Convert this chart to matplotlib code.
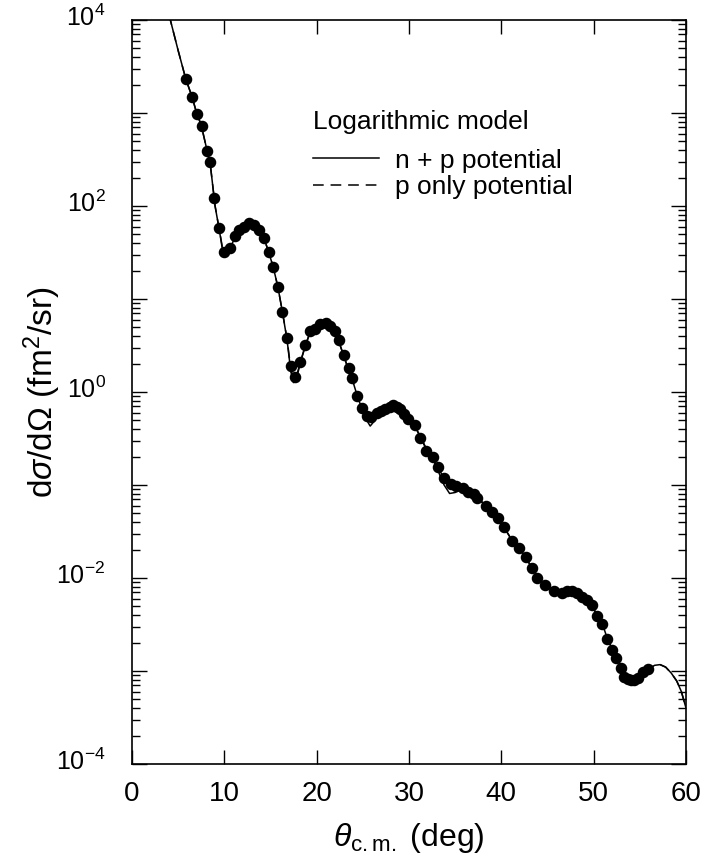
"""
Differential cross section vs c.m. angle, logarithmic model fits.
"""
import numpy as np
import matplotlib
matplotlib.use('Agg')
import matplotlib.pyplot as plt
from matplotlib.ticker import LogLocator, FuncFormatter, MultipleLocator, NullFormatter
from matplotlib.transforms import ScaledTranslation

plt.rcParams['font.family'] = ['Liberation Sans', 'DejaVu Sans']
plt.rcParams['mathtext.fontset'] = 'custom'
plt.rcParams['mathtext.rm'] = 'Liberation Sans'
plt.rcParams['mathtext.it'] = 'Liberation Sans:italic'

# measured points (deg, fm^2/sr)
theta_data = [5.84, 6.53, 7.05, 7.57, 8.15, 8.43, 8.85, 9.43, 10.0, 10.65,
              11.21, 11.57, 12.11, 12.65, 13.19, 13.73, 14.27, 14.8, 15.32, 15.84,
              16.27, 16.74, 17.17, 17.7, 18.24, 18.79, 19.24, 19.86, 20.4, 21.05,
              21.48, 21.94, 22.38, 22.93, 23.46, 23.81, 24.41, 24.94, 25.4, 25.9,
              26.5, 27.0, 27.4, 27.9, 28.3, 28.7, 29.0, 29.5, 29.9, 30.6,
              31.15, 31.87, 32.58, 33.12, 33.84, 34.56, 35.09, 35.8, 36.34, 37.0,
              37.42, 38.32, 39.02, 39.6, 40.3, 41.19, 41.91, 42.62, 43.34, 43.88,
              44.78, 45.67, 46.57, 47.1, 47.65, 48.2, 48.72, 49.3, 49.8, 50.33,
              50.87, 51.4, 51.94, 52.47, 53.01, 53.33, 53.7, 54.05, 54.4, 54.77,
              55.3, 55.86]
sigma_data = [2300, 1500, 980, 720, 390, 295, 123, 58, 32, 35,
              48, 55, 60, 65, 63, 55, 45, 32, 22, 13.5,
              7.2, 3.8, 1.9, 1.45, 2.1, 3.2, 4.5, 4.7, 5.4, 5.5,
              5.1, 4.5, 3.6, 2.5, 1.8, 1.4, 0.91, 0.68, 0.55, 0.54,
              0.59, 0.63, 0.65, 0.69, 0.72, 0.69, 0.65, 0.58, 0.51, 0.44,
              0.32, 0.23, 0.20, 0.155, 0.12, 0.102, 0.098, 0.093, 0.083, 0.079,
              0.072, 0.060, 0.051, 0.044, 0.035, 0.025, 0.021, 0.0166, 0.0129, 0.0100,
              0.0085, 0.0072, 0.0069, 0.0072, 0.0072, 0.0069, 0.0063, 0.0058, 0.0051, 0.0039,
              0.0032, 0.0022, 0.0017, 0.00138, 0.00107, 0.00087, 0.00081, 0.00079, 0.00079, 0.00083,
              0.00098, 0.00105]

# model curves
theta_calc = [4.0, 5.0, 5.84, 6.5, 7.0, 7.5, 8.0, 8.5, 9.0,
              9.5, 9.9, 10.3, 10.8, 11.2, 11.7, 12.2, 12.8, 13.3, 13.8,
              14.3, 14.8, 15.3, 15.8, 16.3, 16.8, 17.2, 17.5, 17.8, 18.2,
              18.8, 19.3, 19.9, 20.5, 21.0, 21.5, 22.0, 22.4, 22.9, 23.4,
              23.9, 24.4, 24.9, 25.4, 25.8, 26.2, 26.8, 27.5, 28.2, 28.8,
              29.5, 30.2, 30.8, 31.4, 32.0, 32.6, 33.2, 33.8, 34.4, 35.0,
              35.6, 36.3, 37.2, 38.3, 39.0, 40.3, 41.2, 42.0, 42.6, 43.4,
              44.0, 44.8, 45.7, 46.5, 47.5, 48.7, 49.8, 50.4, 51.0, 51.5,
              52.0, 52.5, 53.0, 53.5, 54.0, 54.7, 55.3, 56.0, 56.6, 57.2,
              57.8, 58.4, 59.0, 59.5, 60.0]
sigma_np = [1.15e4, 4700, 2300, 1500, 1000, 740, 450, 270, 100,
            52, 29.5, 32, 38, 48, 58, 63, 66, 63, 55,
            45, 32, 22, 13.5, 7.2, 3.6, 1.66, 1.26, 1.35, 2.0,
            3.2, 4.4, 4.9, 5.4, 5.5, 5.1, 4.4, 3.5, 2.5, 1.8,
            1.32, 0.91, 0.66, 0.50, 0.43, 0.48, 0.60, 0.68, 0.72, 0.68,
            0.58, 0.48, 0.40, 0.30, 0.23, 0.19, 0.138, 0.100, 0.081, 0.083,
            0.089, 0.083, 0.076, 0.060, 0.050, 0.035, 0.025, 0.021, 0.0166, 0.0126,
            0.0100, 0.0083, 0.0071, 0.0068, 0.0072, 0.0063, 0.0051, 0.0039, 0.0031, 0.0022,
            0.00174, 0.00138, 0.00107, 0.00083, 0.00074, 0.00078, 0.00091, 0.00105, 0.00115, 0.00117,
            0.00110, 0.00095, 0.00078, 0.00060, 0.00040]
sigma_p = [1.15e4, 4700, 2300, 1500, 1000, 740, 450, 270, 100,
           53, 31, 33, 38, 48, 58, 63, 66, 63, 55,
           45, 32, 22, 13.5, 7.2, 3.7, 1.75, 1.4, 1.45, 2.05,
           3.2, 4.4, 4.9, 5.4, 5.5, 5.1, 4.4, 3.5, 2.5, 1.8,
           1.32, 0.92, 0.68, 0.55, 0.52, 0.55, 0.61, 0.68, 0.72, 0.68,
           0.58, 0.48, 0.40, 0.31, 0.23, 0.19, 0.150, 0.118, 0.100, 0.097,
           0.093, 0.085, 0.077, 0.060, 0.050, 0.035, 0.025, 0.021, 0.0166, 0.0127,
           0.0100, 0.0084, 0.0072, 0.0069, 0.0072, 0.0063, 0.0051, 0.0039, 0.0031, 0.0022,
           0.00174, 0.00138, 0.00107, 0.00084, 0.00077, 0.00080, 0.00092, 0.00105, 0.00115, 0.00117,
           0.00110, 0.00095, 0.00078, 0.00060, 0.00040]

fig = plt.figure(figsize=(7.08, 8.61), dpi=100)
ax = fig.add_axes([0.1864, 0.1127, 0.7825, 0.8641])

ax.plot(theta_calc, sigma_np, color='black', lw=1.1, label='n + p potential')
ax.plot(theta_calc, sigma_p, color='black', lw=1.1, dashes=(7, 4.5), label='p only potential')
ax.plot(theta_data, sigma_data, 'o', color='black', ms=7.3, ls='none')

ax.set_yscale('log')
ax.set_xlim(0, 60)
ax.set_ylim(1e-4, 1e4)

ax.xaxis.set_major_locator(MultipleLocator(10))
ax.yaxis.set_major_locator(LogLocator(base=10, subs=(1.0,), numticks=20))
ax.yaxis.set_minor_locator(LogLocator(base=10, subs=np.arange(2, 10), numticks=20))
ax.yaxis.set_minor_formatter(NullFormatter())


def even_power(v, pos):
    e = int(round(np.log10(v)))
    if e % 2:
        return ''
    return r'$10^{%d}$' % e


ax.yaxis.set_major_formatter(FuncFormatter(even_power))

ax.tick_params(which='both', direction='in', top=True, right=True, width=1.0)
ax.tick_params(axis='x', which='major', length=10, pad=12, labelsize=20)
ax.tick_params(axis='y', which='major', length=11, pad=19, labelsize=18)
ax.tick_params(axis='y', which='minor', length=5.5)
for s in ax.spines.values():
    s.set_linewidth(1.2)

# nudge y tick labels up a little, as in the original
shift = ScaledTranslation(0, 5 / 100, fig.dpi_scale_trans)
for lab in ax.get_yticklabels():
    lab.set_transform(lab.get_transform() + shift)

ax.set_xlabel(r'$\theta_{\mathrm{c.m.}}$ (deg)', fontsize=23, labelpad=10)
ax.set_ylabel(r'd$\sigma$/d$\Omega$ (fm$^2$/sr)', fontsize=24)
ax.yaxis.set_label_coords(-0.125, 0.5)

ax.text(0.327, 0.863, 'Logarithmic model', transform=ax.transAxes,
        fontsize=19, ha='left', va='center')
ax.legend(loc='center left', bbox_to_anchor=(0.327, 0.793),
          frameon=False, fontsize=19, handlelength=2.5,
          handletextpad=0.6, labelspacing=0.1, borderpad=0, borderaxespad=0)

fig.savefig('out.png', dpi=100)
